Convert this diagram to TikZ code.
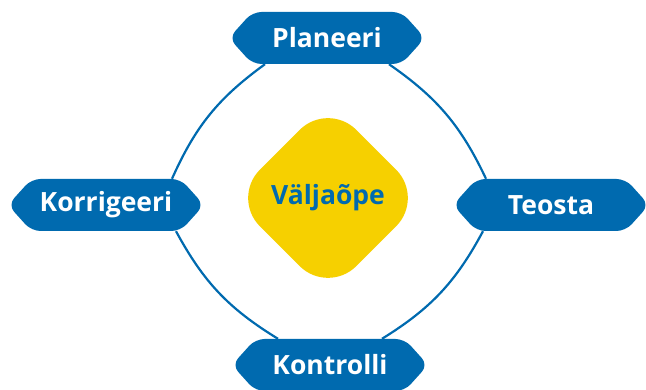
\documentclass[tikz,border=0pt]{standalone}
\usepackage{fontspec}
\setmainfont{Open Sans}
\usepackage{xcolor}
\usetikzlibrary{shapes.geometric, shapes.symbols, positioning, backgrounds}

\definecolor{stageblue}{RGB}{0,106,175}
\definecolor{coreyellow}{RGB}{246,208,0}

\begin{document}
\begin{tikzpicture}[
    x=1pt, y=1pt,
    on grid,
    stage/.style={signal, signal to=west and east, signal pointer angle=96, rounded corners=9pt,
        fill=stageblue, text=white, minimum width=196pt, minimum height=52pt, inner sep=0pt,
        font=\fontsize{26.5}{30}\selectfont\bfseries},
    core/.style={diamond, rounded corners=40pt, fill=coreyellow, text=stageblue,
        minimum size=193pt, inner sep=0pt, font=\fontsize{26.5}{30}\selectfont\bfseries},
    loopline/.style={draw=stageblue, line width=2.2pt, bend right=15}
]
    \useasboundingbox (0,0) rectangle (646,390);

    % centre
    \node[core] (core) at (328,192) {Väljaõpe};

    % the four stages
    \node[stage, above=160pt of core, xshift=-1pt] (plan) {Planeeri};
    \node[stage, below left=7pt and 222pt of core] (korr) {Korrigeeri};
    \node[stage, below right=7pt and 223pt of core] (teos) {Teosta};
    \node[stage, below=167pt of core, xshift=2pt] (kontr) {Kontrolli};

    % ring behind the stages
    \begin{scope}[on background layer]
        \draw[loopline] ([xshift=-62pt]plan.south) to ([xshift=66pt]korr.north);
        \draw[loopline] ([xshift=70pt]korr.south) to ([xshift=-52pt]kontr.north);
        \draw[loopline] ([xshift=52pt]kontr.north) to ([xshift=-68pt]teos.south);
        \draw[loopline] ([xshift=-65pt]teos.north) to ([xshift=62pt]plan.south);
    \end{scope}
\end{tikzpicture}
\end{document}
